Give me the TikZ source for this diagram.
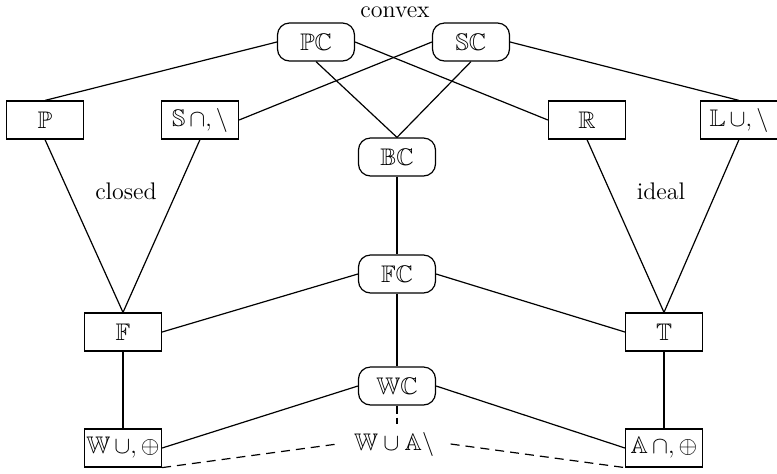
\documentclass[tikz,border=0pt]{standalone}
\usepackage{amssymb}
\begin{document}
\begin{tikzpicture}[x=0.5pt,y=-0.5pt,line width=0.6pt,
  every node/.style={font=\large},
  sq/.style={draw,rectangle,minimum width=38.5pt,minimum height=19pt,inner sep=0pt},
  rnd/.style={draw,rectangle,rounded corners=6pt,minimum width=38.5pt,minimum height=19pt,inner sep=0pt},
  lbl/.style={inner sep=0pt},
  dsh/.style={dash pattern=on 4.5pt off 3pt},
  vdsh/.style={dash pattern=on 4pt off 2pt}]
\useasboundingbox (0,0) rectangle (777,473);
% top row: convex classes
\node[rnd] (pc) at (316,42) {$\mathbb{PC}$};
\node[rnd] (sc) at (471,42) {$\mathbb{SC}$};
\node[lbl] (cvx) at (395,12) {convex};
% second row
\node[sq] (p) at (45,120) {$\mathbb{P}$};
\node[sq] (s) at (200,120) {$\mathbb{S}\,\cap,\setminus$};
\node[sq] (r) at (587,120) {$\mathbb{R}$};
\node[sq] (l) at (739,120) {$\mathbb{L}\,\cup,\setminus$};
\node[rnd] (bc) at (397,157) {$\mathbb{BC}$};
\node[lbl] (closed) at (126,191) {closed};
\node[lbl] (ideal) at (661,191) {ideal};
% middle
\node[rnd] (fc) at (397,274) {$\mathbb{FC}$};
\node[sq] (f) at (123,332) {$\mathbb{F}$};
\node[sq] (t) at (664,332) {$\mathbb{T}$};
% bottom
\node[rnd] (wc) at (397,386) {$\mathbb{WC}$};
\node[sq] (w) at (123,448) {$\mathbb{W}\,\cup,\oplus$};
\node[sq] (a) at (664,448) {$\mathbb{A}\,\cap,\oplus$};
\node[lbl,inner xsep=8pt,inner ysep=3.5pt] (wa) at (394,444) {$\mathbb{W}\cup\mathbb{A}\setminus$};
% edges
\draw (p.north) -- (pc.west);
\draw (pc.east) -- (r.west);
\draw (pc.south) -- (bc.north);
\draw (sc.south) -- (bc.north);
\draw (sc.west) -- (s.east);
\draw (sc.east) -- (l.north);
\draw (p.south) -- (f.north);
\draw (s.south) -- (f.north);
\draw (r.south) -- (t.north);
\draw (l.south) -- (t.north);
\draw (bc) -- (fc);
\draw (fc.west) -- (f.east);
\draw (fc.east) -- (t.west);
\draw (fc) -- (wc);
\draw (f) -- (w);
\draw (t) -- (a);
\draw (wc.west) -- (w.east);
\draw (wc.east) -- (a.west);
\draw[vdsh] (wc.south) -- (wc.south |- wa.north);
\draw[dsh] (w.south east) -- (wa.west);
\draw[dsh] (wa.east) -- (a.south west);
\end{tikzpicture}
\end{document}
